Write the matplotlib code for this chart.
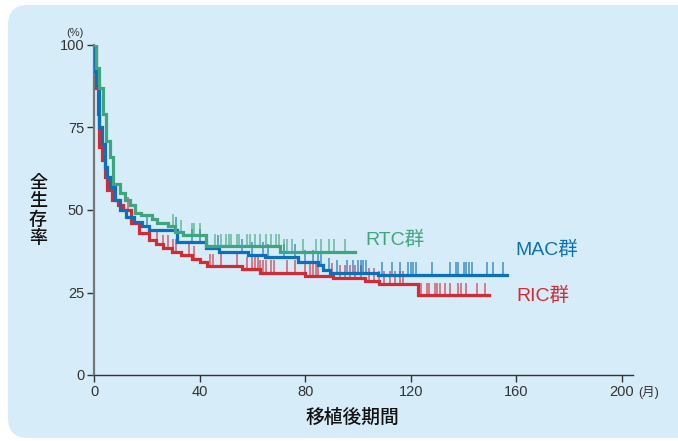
import matplotlib
matplotlib.use('Agg')
import matplotlib.pyplot as plt
from matplotlib.patches import FancyBboxPatch
import numpy as np

plt.rcParams['font.family'] = ['Liberation Sans', 'Noto Sans CJK JP', 'DejaVu Sans']

# Kaplan-Meier steps (months, % surviving)
rtc_t = [0, 0.8, 2, 3.5, 4.5, 6, 7.2, 9.8, 11.7, 13.6, 15.5, 17.8, 22, 24, 28, 30.7, 33.7, 42.4, 70.5]
rtc_s = [100, 93, 87, 79, 71, 66, 58, 55, 53, 51.5, 49, 48.5, 47.3, 46, 45, 43.3, 42.4, 39, 37.3]
rtc_end = 99

mac_t = [0, 0.2, 1, 2, 3, 4, 5, 6, 8, 10, 12, 15, 18, 21, 31.4, 42.4, 47.3, 58.3, 64.8, 77.3, 84.8, 86.7, 89.4, 107.6]
mac_s = [100, 92, 88, 75, 70, 63, 60, 57, 53, 50, 48, 46.5, 45, 44, 40.3, 38.5, 37.3, 36.4, 35.8, 34.2, 33.3, 31.8, 30.9, 30.3]
mac_end = 156.5

ric_t = [0, 0.8, 1.5, 2, 3, 4, 5, 7, 9, 11, 14, 17, 21, 23.5, 26, 29.5, 33, 37, 40, 42.8, 56, 63, 80, 90.5, 102.6, 108, 122.7]
ric_s = [100, 87, 79, 69, 65, 60, 56, 53, 51.5, 50, 46, 43, 41, 39.7, 38.5, 37.3, 36.4, 35.2, 34.2, 33, 32.1, 30.9, 30, 29.4, 28.5, 27.6, 24.2]
ric_end = 149.6

# censored observations (months)
rtc_cens = [30, 33, 37, 38, 40, 46, 48, 50, 51, 52, 54, 55, 58, 59, 61, 63, 65, 67, 69, 70,
            72, 73, 75, 79, 84, 86, 89, 91, 95]
mac_cens = [20, 31, 37, 40, 47, 56, 60, 64, 66, 72, 76, 80, 83, 85, 86, 89, 92, 96, 98, 100,
            101, 102, 103, 109, 113, 116, 119, 120, 121, 122, 128, 135, 137, 138, 140, 141,
            142, 143, 149, 151, 155]
ric_cens = [13, 24, 26, 28, 30, 31, 36, 38, 44, 45, 48, 54, 58, 60, 61, 62, 63, 64, 65, 67,
            68, 73, 76, 80, 82, 83, 84, 85, 90, 93, 95, 97, 99, 101, 104, 106, 108, 110, 112,
            114, 116, 117, 124, 126, 127, 129, 130, 131, 133, 135, 138, 139, 141, 145, 148]

x_ticks = [0, 40, 80, 120, 160, 200]
y_ticks = [0, 25, 50, 75, 100]

green = '#3fa57c'
blue = '#0b70bb'
red = '#d42a33'
panel = '#d6ecf9'

fig = plt.figure(figsize=(6.78, 4.41), dpi=100)

# rounded light-blue panel behind everything
bg = fig.add_axes([0, 0, 1, 1])
bg.set_xlim(0, 678)
bg.set_ylim(441, 0)
bg.axis('off')
bg.add_patch(FancyBboxPatch((8, 5), 720, 433, boxstyle='round,pad=0,rounding_size=20',
                            fc=panel, ec='none'))

ax = fig.add_axes([94 / 678, 66 / 441, 538.6 / 678, 330 / 441])
ax.set_facecolor('none')


def draw_km(t, s, end, cens, color):
    t = np.append(t, end)
    s = np.append(s, s[-1])
    ax.step(t, s, where='post', color=color, lw=2.3, solid_joinstyle='miter', zorder=3)
    idx = np.searchsorted(t, cens, side='right') - 1
    base = s[idx]
    ax.vlines(cens, base, base + 3.8, color=color, lw=1.1, alpha=0.75, zorder=2)


draw_km(ric_t, ric_s, ric_end, ric_cens, red)
draw_km(mac_t, mac_s, mac_end, mac_cens, blue)
draw_km(rtc_t, rtc_s, rtc_end, rtc_cens, green)

ax.set_xlim(0, 204)
ax.set_ylim(0, 100)
ax.set_xticks(x_ticks)
ax.set_yticks(y_ticks)
ax.tick_params(direction='out', length=5, width=1, color='#333333',
               labelsize=10.5, labelcolor='#333333', pad=2)
for side in ['top', 'right']:
    ax.spines[side].set_visible(False)
ax.spines['left'].set_color('#777777')
ax.spines['left'].set_linewidth(1.6)
ax.spines['bottom'].set_color('#333333')
ax.spines['bottom'].set_linewidth(1.0)

ax.text(-7.2, 103.5, '(%)', fontsize=8, color='#333333', ha='center', va='center', clip_on=False)
ax.text(206, -5.2, '(月)', fontsize=9, color='#333333', ha='left', va='center', clip_on=False)

ax.text(102.7, 41, 'RTC群', fontsize=14, color=green, ha='left', va='center')
ax.text(159.5, 37.9, 'MAC群', fontsize=14, color=blue, ha='left', va='center')
ax.text(159.8, 23.9, 'RIC群', fontsize=14, color=red, ha='left', va='center')

fig.text(38 / 678, 1 - 211 / 441, '\n'.join('全生存率'), fontsize=13, color='#111111',
         ha='center', va='center', linespacing=1.08, fontweight='medium')
fig.text(352 / 678, 1 - 418 / 441, '移植後期間', fontsize=13.5, color='#111111',
         ha='center', va='center', fontweight='medium')

fig.savefig('out.png', dpi=100)
